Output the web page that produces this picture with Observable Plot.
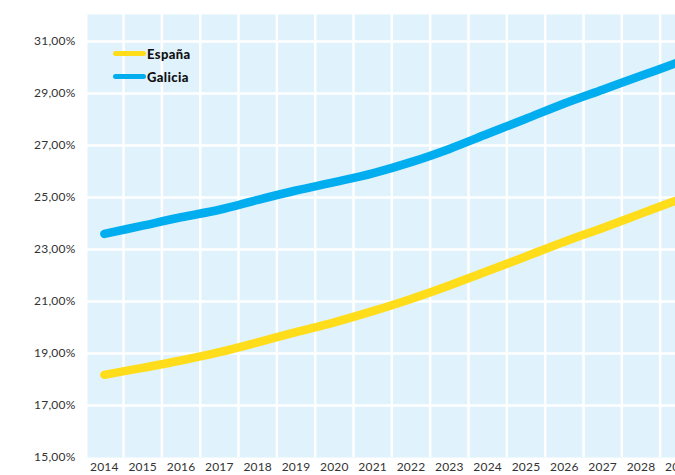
<!DOCTYPE html>
<html>
<head>
<meta charset="utf-8">
<script src="https://cdn.jsdelivr.net/npm/d3@7"></script>
<script src="https://cdn.jsdelivr.net/npm/@observablehq/plot@0.6"></script>
<style>
  html, body { margin: 0; padding: 0; background: #fff; overflow: hidden; width: 675px; height: 475px; }
  #wrap { position: relative; width: 700px; height: 475px; }
  #legend { position: absolute; left: 113px; top: 42px; font-family: Lato, "Open Sans", sans-serif; font-weight: 900; font-size: 13px; letter-spacing: 0.4px; color: #111; }
  #legend .row { display: flex; align-items: center; height: 23px; }
  #legend .sw { width: 33px; height: 5px; border-radius: 3px; margin-right: 1px; }
</style>
</head>
<body>
<div id="wrap">
  <div id="chart"></div>
  <div id="legend"></div>
</div>
<script>
const years = [2014, 2015, 2016, 2017, 2018, 2019, 2020, 2021, 2022, 2023, 2024, 2025, 2026, 2027, 2028, 2029];
const espana = [18.18, 18.45, 18.73, 19.05, 19.43, 19.82, 20.20, 20.63, 21.10, 21.62, 22.17, 22.73, 23.30, 23.83, 24.38, 24.93];
const galicia = [23.60, 23.92, 24.24, 24.53, 24.91, 25.27, 25.59, 25.93, 26.36, 26.87, 27.45, 28.03, 28.62, 29.15, 29.68, 30.22];
const seriesNames = ["España", "Galicia"];
const seriesColors = ["#FFDD1B", "#00AEEF"];
const yTicks = [15, 17, 19, 21, 23, 25, 27, 29, 31];

const data = [];
years.forEach((y, i) => {
  data.push({year: y, value: espana[i], serie: seriesNames[0]});
  data.push({year: y, value: galicia[i], serie: seriesNames[1]});
});
const vGrid = years.slice(0, -1).map(y => y + 0.5);
const hGrid = yTicks.slice(1);

const chart = Plot.plot({
  width: 698,
  height: 475,
  marginLeft: 87,
  marginRight: 0,
  marginTop: 14,
  marginBottom: 18,
  style: {fontFamily: "Lato, 'Open Sans', sans-serif", fontSize: "12px", letterSpacing: "0.2px", color: "#333", background: "transparent"},
  x: {domain: [2013.56, 2029.5], ticks: years, tickFormat: d => String(d), tickSize: 0, tickPadding: 5, label: null},
  y: {domain: [15, 32.04], ticks: yTicks, tickFormat: v => v.toFixed(2).replace(".", ",") + "%", tickSize: 0, tickPadding: 12, label: null},
  color: {domain: seriesNames, range: seriesColors},
  marks: [
    Plot.frame({fill: "#E0F2FC", stroke: null}),
    Plot.ruleX(vGrid, {stroke: "#fff", strokeWidth: 2.5, strokeOpacity: 1}),
    Plot.ruleY(hGrid, {stroke: "#fff", strokeWidth: 2.5, strokeOpacity: 1}),
    Plot.line(data, {x: "year", y: "value", stroke: "serie", z: "serie", strokeWidth: 8.5, strokeLinecap: "round", strokeLinejoin: "round", curve: "catmull-rom"})
  ]
});
chart.querySelectorAll("g[aria-label='x-axis tick label'] text, g[aria-label='y-axis tick label'] text").forEach(t => t.setAttribute("fill", "#333"));
document.getElementById("chart").appendChild(chart);

const legend = document.getElementById("legend");
seriesNames.forEach((name, i) => {
  const row = document.createElement("div");
  row.className = "row";
  const sw = document.createElement("span");
  sw.className = "sw";
  sw.style.background = seriesColors[i];
  const lab = document.createElement("span");
  lab.textContent = name;
  row.appendChild(sw);
  row.appendChild(lab);
  legend.appendChild(row);
});
</script>
</body>
</html>
